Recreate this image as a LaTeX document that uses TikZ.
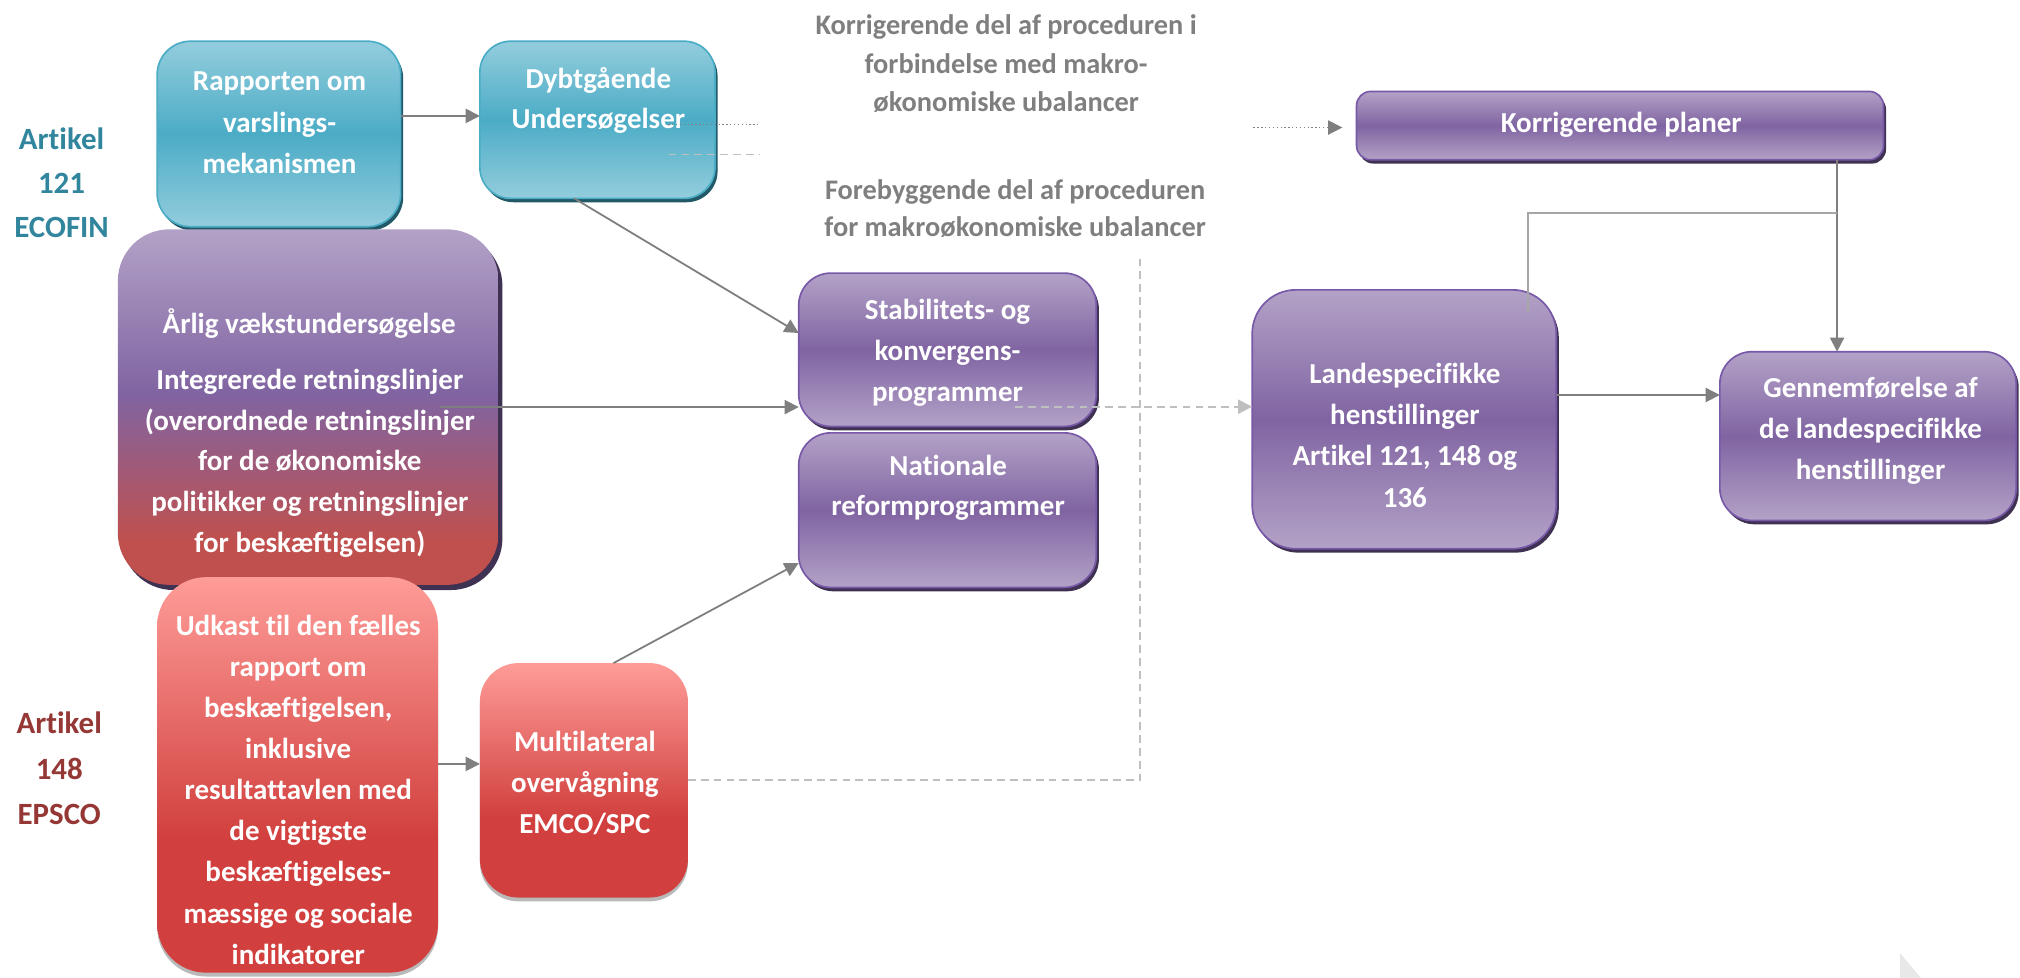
\documentclass[tikz,border=0pt]{standalone}
\usepackage{fontspec}
\setmainfont{Carlito}[Ligatures=NoCommon]
\usetikzlibrary{arrows.meta,shadows,calc}
\definecolor{tealL}{HTML}{93CDDD}
\definecolor{tealD}{HTML}{4BACC6}
\definecolor{tealB}{HTML}{4BACC6}
\definecolor{tealS}{HTML}{215968}
\definecolor{purL}{HTML}{B3A2C7}
\definecolor{purD}{HTML}{8064A2}
\definecolor{purB}{HTML}{7859A8}
\definecolor{purS}{HTML}{3F3151}
\definecolor{redA}{HTML}{C0504D}
\definecolor{pinkT}{HTML}{FE9C98}
\definecolor{redB}{HTML}{D1403E}
\definecolor{arrG}{HTML}{7F7F7F}
\definecolor{dashG}{HTML}{BFBFBF}
\definecolor{lineG}{HTML}{A6A6A6}
\definecolor{txtG}{HTML}{7F7F7F}
\definecolor{ecoT}{HTML}{31859C}
\definecolor{epsR}{HTML}{953735}
\pgfdeclareverticalshading{tealsh}{100bp}{color(0bp)=(tealL); color(25bp)=(tealL); color(50bp)=(tealD); color(75bp)=(tealL); color(100bp)=(tealL)}
\pgfdeclareverticalshading{pursh}{100bp}{color(0bp)=(purL); color(25bp)=(purL); color(50bp)=(purD); color(75bp)=(purL); color(100bp)=(purL)}
\pgfdeclareverticalshading{arlsh}{100bp}{color(0bp)=(redA); color(25bp)=(redA); color(31bp)=(redA); color(52bp)=(purD); color(75bp)=(purL); color(100bp)=(purL)}
\pgfdeclareverticalshading{redsh}{100bp}{color(0bp)=(redB); color(25bp)=(redB); color(42bp)=(redB); color(75bp)=(pinkT); color(100bp)=(pinkT)}
\begin{document}
\begin{tikzpicture}[x=1pt,y=-1pt,
  boxbase/.style={inner sep=0pt, outer sep=0pt, anchor=north west},
  tealbox/.style={boxbase, shade, shading=tealsh, draw=tealB, line width=1.3pt,
    drop shadow={shadow xshift=2pt, shadow yshift=-3pt, fill=tealS, opacity=1}},
  purbox/.style={boxbase, shade, shading=pursh, draw=purB, line width=1.3pt,
    drop shadow={shadow xshift=2pt, shadow yshift=-3pt, fill=purS, opacity=1}},
  arlbox/.style={boxbase, shade, shading=arlsh, draw=none,
    drop shadow={shadow xshift=3pt, shadow yshift=-4pt, fill=purS, opacity=1}},
  redbox/.style={boxbase, shade, shading=redsh, draw=none,
    drop shadow={shadow xshift=0pt, shadow yshift=-3pt, fill=gray!55, opacity=1}},
  txt/.style={text=white, align=center, inner sep=0pt, font=\bfseries\fontsize{22.5}{32}\selectfont},
  gtxt/.style={text=txtG, align=center, inner sep=0pt, font=\bfseries\fontsize{22}{30}\selectfont},
  arr/.style={draw=arrG, line width=1.4pt, -{Triangle[length=11pt,width=11pt]}},
  dsh/.style={draw=dashG, line width=1.4pt, dash pattern=on 6pt off 4pt},
  dsharr/.style={dsh, -{Triangle[length=11pt,width=11pt,fill=dashG]}},
  dotl/.style={draw=arrG, line width=1pt, dotted},
  dotarr/.style={dotl, -{Triangle[length=11pt,width=11pt]}},
  lgt/.style={draw=lineG, line width=1.3pt}
]
\useasboundingbox (0,0) rectangle (1568,759);

% boxes
\node[tealbox, rounded corners=26pt, minimum width=189pt, minimum height=144pt] (rap) at (122,32) {};
\node[tealbox, rounded corners=24pt, minimum width=182.5pt, minimum height=122pt] (dyb) at (372.5,32) {};
\node[arlbox, rounded corners=40pt, minimum width=295.5pt, minimum height=276pt] (arl) at (91.5,178) {};
\node[redbox, rounded corners=38pt, minimum width=218pt, minimum height=307pt] (udk) at (122,448) {};
\node[redbox, rounded corners=30pt, minimum width=161.5pt, minimum height=182pt] (mul) at (372.5,514.7) {};
\node[purbox, rounded corners=25pt, minimum width=231pt, minimum height=119pt] (stab) at (620,212) {};
\node[purbox, rounded corners=25pt, minimum width=231pt, minimum height=120pt] (nat) at (620,336) {};
\node[purbox, rounded corners=34pt, minimum width=236pt, minimum height=201pt] (land) at (972,225) {};
\node[purbox, rounded corners=11pt, minimum width=409pt, minimum height=53pt] (korr) at (1053,71) {};
\node[purbox, rounded corners=25pt, minimum width=230pt, minimum height=131pt] (gen) at (1335,273) {};

% texts in boxes
\node[txt] (trap) at (217,95.3) {Rapporten om\\varslings-\\mekanismen};
\node[txt, font=\bfseries\fontsize{22.5}{31}\selectfont] (tdyb) at (464.5,78.3) {Dybtgående\\Undersøgelser};
\node[txt] (tarl1) at (240,250.8) {Årlig vækstundersøgelse};
\node[txt, font=\bfseries\fontsize{22.5}{31.7}\selectfont] (tarl2) at (240.5,359.6) {Integrerede retningslinjer\\(overordnede retningslinjer\\for de økonomiske\\politikker og retningslinjer\\for beskæftigelsen)};
\node[txt, font=\bfseries\fontsize{22.5}{31.9}\selectfont] (tudk) at (231.5,613) {Udkast til den fælles\\rapport om\\beskæftigelsen,\\inklusive\\resultattavlen med\\de vigtigste\\beskæftigelses-\\mæssige og sociale\\indikatorer};
\node[txt, font=\bfseries\fontsize{22.5}{31.6}\selectfont] (tmul) at (454,607.8) {Multilateral\\overvågning\\EMCO/SPC};
\node[txt, font=\bfseries\fontsize{22.5}{31.7}\selectfont] (tstab) at (735.5,273.8) {Stabilitets- og\\konvergens-\\programmer};
\node[txt, font=\bfseries\fontsize{22.5}{31}\selectfont] (tnat) at (736,379) {Nationale\\reformprogrammer};
\node[txt] (tland) at (1090.5,337.9) {Landespecifikke\\henstillinger\\Artikel 121, 148 og\\136};
\node[txt] (tkorr) at (1258.5,97) {Korrigerende planer};
\node[txt, font=\bfseries\fontsize{22.5}{31.7}\selectfont] (tgen) at (1452,334.2) {Gennemførelse af\\de landespecifikke\\henstillinger};

% free texts
\node[gtxt] (g1) at (781,49.6) {Korrigerende del af proceduren i\\forbindelse med makro-\\økonomiske ubalancer};
\node[gtxt, font=\bfseries\fontsize{22}{29}\selectfont] (g2) at (788,162) {Forebyggende del af proceduren\\for makroøkonomiske ubalancer};
\node[align=center, inner sep=0pt, text=ecoT, font=\bfseries\fontsize{24}{34.3}\selectfont] (leco) at (47.8,141.8) {Artikel\\121\\ECOFIN};
\node[align=center, inner sep=0pt, text=epsR, font=\bfseries\fontsize{24}{35}\selectfont] (leps) at (46,596.4) {Artikel\\148\\EPSCO};

% connectors
\coordinate (a1) at ([yshift=14pt]rap.east);
\draw[arr] (a1) -- (a1 -| dyb.west);
\coordinate (a2) at ([xshift=-18pt]dyb.south);
\draw[arr] (a2) -- ([yshift=13pt]stab.west);
\coordinate (a3) at ([xshift=102pt]arl.center);
\draw[arr] (a3) -- (a3 -| stab.west);
\coordinate (a4) at ([xshift=23pt]mul.north);
\draw[arr] (a4) -- ([yshift=-41pt]nat.west);
\coordinate (a5) at ([yshift=8.5pt]udk.east);
\draw[arr] (a5) -- (a5 -| mul.west);

\coordinate (d1) at (885,200);
\draw[dsh] (mul.east) -| (d1);
\coordinate (s1) at ([xshift=52.5pt,yshift=-44.2pt]stab.center);
\draw[dsharr] (s1) -- (s1 -| land.west);

\coordinate (b1) at ([xshift=55pt,yshift=-3.5pt]dyb.center);
\coordinate (b1e) at (589,96.5);
\draw[dotl] (b1) -- (b1e);
\coordinate (b2) at ([xshift=55.25pt,yshift=-27pt]dyb.center);
\coordinate (b2e) at (590,120);
\draw[dsh] (b2) -- (b2e);

\coordinate (k0) at (973,99);
\draw[dotarr, shorten >=11pt] (k0) -- (k0 -| korr.west);

\coordinate (l1) at ([yshift=18.9pt]land.east);
\draw[arr] (l1) -- (l1 -| gen.west);
\coordinate (k1) at ([xshift=168.5pt]korr.south);
\draw[arr] (k1) -- (k1 |- gen.north);
\coordinate (l2) at ([xshift=96pt,yshift=-18pt]land.north);
\coordinate (hy) at (0,165.6);
\draw[lgt] (l2) |- (k1 |- hy);

% page corner mark
\fill[gray!18] (1475,740) -- (1475,759) -- (1491,759) -- cycle;
\end{tikzpicture}
\end{document}
